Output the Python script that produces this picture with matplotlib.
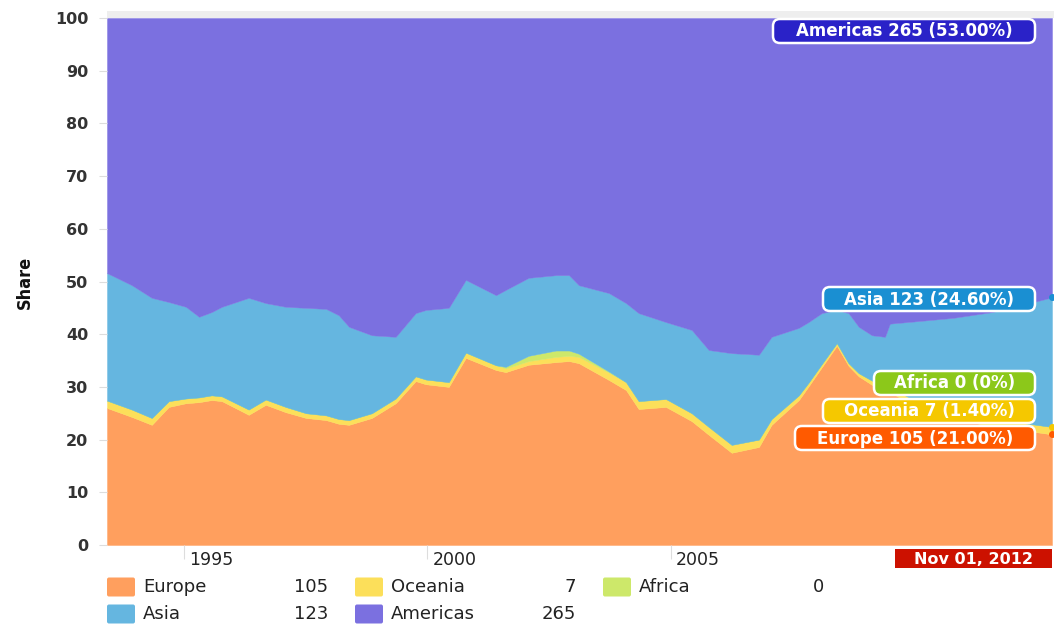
import matplotlib
matplotlib.use("Agg")
import matplotlib.pyplot as plt
from matplotlib.patches import FancyBboxPatch, Rectangle
from matplotlib.transforms import IdentityTransform, ScaledTranslation

# ---------------- data ----------------
dates = [1993.42, 1993.93, 1994.34, 1994.69, 1995.04, 1995.31, 1995.57, 1995.78,
         1996.33, 1996.68, 1997.09, 1997.51, 1997.92, 1998.18, 1998.39, 1998.86,
         1999.35, 1999.76, 1999.97, 2000.44, 2000.79, 2001.41, 2001.61, 2002.08,
         2002.64, 2002.91, 2003.11, 2003.73, 2004.08, 2004.34, 2004.90, 2005.43,
         2005.78, 2006.25, 2006.81, 2007.07, 2007.63, 2007.83, 2008.10, 2008.41,
         2008.65, 2008.86, 2009.13, 2009.40, 2009.50, 2010.10, 2010.80, 2011.60,
         2012.20, 2012.83]

europe = [26.0, 24.3, 22.8, 26.2, 26.9, 27.1, 27.5, 27.3,
          24.7, 26.6, 25.2, 24.1, 23.7, 23.0, 22.8, 24.1,
          26.9, 31.1, 30.5, 30.0, 35.5, 33.2, 32.8, 34.2,
          34.7, 34.9, 34.5, 31.3, 29.4, 25.8, 26.2, 23.5,
          20.9, 17.5, 18.6, 22.8, 27.5, 30.1, 33.7, 37.8,
          34.0, 32.0, 30.4, 29.5, 29.0, 26.0, 24.0, 22.5,
          21.8, 21.0]

oceania = [1.4, 1.4, 1.3, 1.1, 0.9, 0.9, 0.9, 0.9,
           1.0, 1.0, 1.0, 0.9, 0.9, 0.9, 0.9, 0.9,
           0.9, 0.9, 0.9, 0.9, 1.0, 0.9, 0.7, 0.7,
           1.0, 1.0, 1.2, 1.4, 1.5, 1.5, 1.5, 1.5,
           1.5, 1.5, 1.4, 1.1, 0.9, 0.7, 0.6, 0.5,
           0.5, 0.6, 0.8, 0.8, 0.9, 1.0, 1.2, 1.3,
           1.4, 1.4]

africa = [0.0, 0.0, 0.0, 0.0, 0.0, 0.0, 0.0, 0.0,
          0.0, 0.0, 0.0, 0.0, 0.0, 0.0, 0.0, 0.0,
          0.0, 0.0, 0.0, 0.0, 0.0, 0.0, 0.3, 1.0,
          1.2, 1.0, 0.6, 0.2, 0.0, 0.0, 0.0, 0.0,
          0.0, 0.0, 0.0, 0.0, 0.0, 0.0, 0.0, 0.0,
          0.0, 0.0, 0.0, 0.0, 0.0, 0.0, 0.0, 0.0,
          0.0, 0.0]

asia = [24.2, 23.6, 22.8, 18.8, 17.4, 15.3, 15.8, 17.0,
        21.2, 18.3, 19.0, 20.0, 20.2, 19.7, 17.7, 14.8,
        11.7, 12.0, 13.2, 14.1, 13.8, 13.3, 14.6, 14.8,
        14.3, 14.3, 13.0, 14.9, 15.0, 16.7, 14.6, 15.8,
        14.6, 17.4, 16.1, 15.6, 12.8, 11.5, 9.7, 6.3,
        9.5, 8.8, 8.6, 9.2, 12.1, 15.5, 17.9, 20.4,
        22.3, 24.6]

americas = [48.4, 50.7, 53.1, 53.9, 54.8, 56.7, 55.8, 54.8,
            53.1, 54.1, 54.8, 55.0, 55.2, 56.4, 58.6, 60.2,
            60.5, 56.0, 55.4, 55.0, 49.7, 52.6, 51.6, 49.3,
            48.8, 48.8, 50.7, 52.2, 54.1, 56.0, 57.7, 59.2,
            63.0, 63.6, 63.9, 60.5, 58.8, 57.7, 56.0, 55.4,
            56.0, 58.6, 60.2, 60.5, 58.0, 57.5, 56.9, 55.8,
            54.5, 53.0]

series_names = ["Europe", "Oceania", "Africa", "Asia", "Americas"]
series_counts = [105, 7, 0, 123, 265]
cursor_label = "Nov 01, 2012"
y_ticks = [0, 10, 20, 30, 40, 50, 60, 70, 80, 90, 100]
x_ticks = [1995, 2000, 2005]

# ---------------- style ----------------
fill_colors = ["#FF9F5E", "#FCDF5A", "#CDE86A", "#65B6E0", "#7B70E0"]
balloon_colors = ["#FF5A00", "#F5C800", "#8CC81A", "#1A8FD2", "#2A22C8"]

W, H = 1054, 629
fig = plt.figure(figsize=(W / 100, H / 100), dpi=100)
fig.patch.set_facecolor("white")

L, R, T, B = 107, 1052, 18, 545
ax = fig.add_axes([L / W, 1 - B / H, (R - L) / W, (B - T) / H])

polys = ax.stackplot(dates, europe, oceania, africa, asia, americas,
                     colors=fill_colors, linewidth=0)
for p, c in zip(polys, fill_colors):
    p.set_edgecolor(c)
    p.set_linewidth(0.3)

ax.set_xlim(dates[0], dates[-1])
ax.set_ylim(0, 100)
ax.set_yticks(y_ticks)
ax.set_yticklabels([str(v) for v in y_ticks])
ax.set_xticks(x_ticks)
ax.set_xticklabels([str(v) for v in x_ticks])
for s in ax.spines.values():
    s.set_visible(False)

ax.tick_params(axis="y", length=5.5, width=0.8, color="#dddddd", pad=8,
               labelsize=11.5, labelcolor="#333333")
for lab in ax.get_yticklabels():
    lab.set_fontweight("bold")
ax.tick_params(axis="x", length=10, width=0.8, color="#dddddd", pad=-6,
               labelsize=12.5, labelcolor="#222222")
offset = ScaledTranslation(5 / 100, 0, fig.dpi_scale_trans)
for lab in ax.get_xticklabels():
    lab.set_ha("left")
    lab.set_transform(lab.get_transform() + offset)

# y-axis title
fig.text(25 / W, 1 - 282 / H, "Share", rotation=90, ha="center", va="center",
         fontsize=13, fontweight="bold", fontstretch="condensed",
         color="#111111", family=["DejaVu Sans"])

ident = IdentityTransform()

# light band above plot
fig.add_artist(Rectangle((L, H - T), W - L, 7, transform=ident,
                         facecolor="#eeeeee", edgecolor="none"))

# cursor bullets at the last date
cum = 0.0
last_vals = [europe[-1], oceania[-1], africa[-1], asia[-1], americas[-1]]
tops = []
for v in last_vals:
    cum += v
    tops.append(cum)
for top, c in zip([tops[0], tops[1], tops[3]],
                  [balloon_colors[0], balloon_colors[1], balloon_colors[3]]):
    ax.plot([dates[-1]], [top], marker="o", markersize=4, color=c,
            clip_on=False, zorder=5)

# balloons (box geometry in pixels)
total = sum(series_counts)
balloon_boxes = {"Americas": (773, 19, 1035, 43),
                 "Asia": (823, 287, 1035, 311),
                 "Africa": (874, 371, 1035, 395),
                 "Oceania": (823, 399, 1035, 423),
                 "Europe": (795, 426, 1035, 450)}
for name, cnt, col in zip(series_names, series_counts, balloon_colors):
    pct = 100.0 * cnt / total
    pct_txt = "0%" if cnt == 0 else f"{pct:.2f}%"
    txt = f"{name} {cnt} ({pct_txt})"
    x0, y0, x1, y1 = balloon_boxes[name]
    fig.add_artist(FancyBboxPatch((x0, H - y1), x1 - x0, y1 - y0,
                                  boxstyle="round,pad=0,rounding_size=7",
                                  transform=ident, facecolor=col,
                                  edgecolor="white", linewidth=1.8, zorder=10))
    fig.text((x0 + x1) / 2 / W, 1 - ((y0 + y1) / 2 + 0.5) / H, txt,
             ha="center", va="center", fontsize=12, fontweight="bold",
             color="white", zorder=11)

# cursor date box
fig.add_artist(Rectangle((895, H - 568), 1052 - 895, 19, transform=ident,
                         facecolor="#CC1100", edgecolor="none", zorder=10))
fig.text((895 + 1052) / 2 / W, 1 - 559 / H, cursor_label, ha="center",
         va="center", fontsize=11.5, fontweight="bold", color="white", zorder=11)

# legend
for i, (name, cnt, col) in enumerate(zip(series_names, series_counts, fill_colors)):
    row, colidx = divmod(i, 3)
    xs = 107 + 248 * colidx
    yc = 587 + 27 * row
    fig.add_artist(FancyBboxPatch((xs, H - yc - 9.5), 28, 19,
                                  boxstyle="round,pad=0,rounding_size=2",
                                  transform=ident, facecolor=col,
                                  edgecolor="none"))
    fig.text((xs + 36) / W, 1 - yc / H, name, ha="left", va="center",
             fontsize=13, color="#222222")
    fig.text((xs + 221) / W, 1 - yc / H, str(cnt), ha="right", va="center",
             fontsize=13, color="#222222")

fig.savefig("out.png", dpi=100, facecolor="white")
